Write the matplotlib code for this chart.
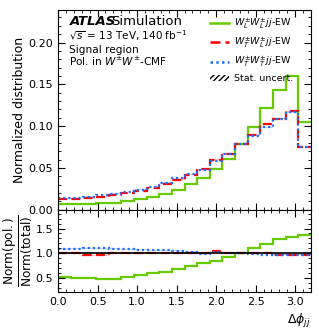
import numpy as np
import matplotlib
matplotlib.use("Agg")
import matplotlib.pyplot as plt
from matplotlib.lines import Line2D
from matplotlib.patches import Patch
from matplotlib.ticker import MultipleLocator

# ---- data ----
bin_edges = [0.0, 0.16, 0.32, 0.48, 0.64, 0.80, 0.96, 1.12, 1.28, 1.44, 1.60,
             1.76, 1.92, 2.08, 2.24, 2.40, 2.56, 2.72, 2.88, 3.04, 3.20]
ww_LL = [0.0066, 0.0067, 0.0070, 0.0079, 0.0085, 0.0104, 0.0124, 0.0153, 0.0192, 0.0240,
         0.0310, 0.0383, 0.0485, 0.0610, 0.0786, 0.0985, 0.1215, 0.1437, 0.1605, 0.1055]
ww_TL = [0.0130, 0.0132, 0.0138, 0.0158, 0.0178, 0.0200, 0.0228, 0.0262, 0.0310, 0.0362,
         0.0420, 0.0490, 0.0600, 0.0670, 0.0786, 0.0897, 0.1030, 0.1090, 0.1180, 0.0750]
ww_TT = [0.0142, 0.0145, 0.0158, 0.0181, 0.0194, 0.0216, 0.0241, 0.0275, 0.0325, 0.0376,
         0.0428, 0.0480, 0.0585, 0.0663, 0.0786, 0.0886, 0.0985, 0.1088, 0.1165, 0.0750]
ww_total = [0.0131, 0.0133, 0.0144, 0.0165, 0.0178, 0.0200, 0.0226, 0.0259, 0.0307, 0.0358,
            0.0416, 0.0485, 0.0577, 0.0663, 0.0786, 0.0897, 0.1030, 0.1124, 0.1216, 0.0773]
rel_stat = [0.012, 0.012, 0.012, 0.011, 0.011, 0.010, 0.010, 0.009, 0.009, 0.008,
            0.008, 0.007, 0.007, 0.006, 0.006, 0.006, 0.005, 0.005, 0.005, 0.006]

labels = [r"$W^{\pm}_{L}W^{\pm}_{L}jj$-EW", r"$W^{\pm}_{T}W^{\pm}_{L}jj$-EW",
          r"$W^{\pm}_{T}W^{\pm}_{T}jj$-EW"]
colors = ["#66cc00", "#ff0000", "#1f6fff"]
styles = ["-", (0, (4, 2)), (0, (1, 1.3))]

edges = np.array(bin_edges)
series = [np.array(ww_LL), np.array(ww_TL), np.array(ww_TT)]
total = np.array(ww_total)
rstat = np.array(rel_stat)

fig = plt.figure(figsize=(3.19, 3.31), dpi=100)
ax1 = fig.add_axes([0.182, 0.366, 0.793, 0.604])
ax2 = fig.add_axes([0.182, 0.118, 0.793, 0.248], sharex=ax1)

def step(ax, y, **kw):
    ax.stairs(y, edges, baseline=None, **kw)

for y, c, ls in zip(series, colors, styles):
    ax1.stairs(y * (1 + rstat), edges, baseline=y * (1 - rstat), fill=True,
               color=c, alpha=0.25, lw=0)
    step(ax1, y, color=c, ls=ls, lw=1.6)

for y, c, ls in zip(series, colors, styles):
    r = y / total
    ax2.stairs(r * (1 + rstat), edges, baseline=r * (1 - rstat), fill=True,
               color=c, alpha=0.25, lw=0)
ax2.stairs(1 + rstat, edges, baseline=1 - rstat, fill=True, facecolor="none",
           edgecolor="0.3", hatch="//////", lw=0)
ax2.axhline(1.0, color="black", lw=1.2)
for y, c, ls in zip(series, colors, styles):
    step(ax2, y / total, color=c, ls=ls, lw=1.6)

ax1.set_xlim(0, 3.2)
ax1.set_ylim(0, 0.239)
ax2.set_ylim(0.21, 1.88)

for ax in (ax1, ax2):
    ax.tick_params(which="both", direction="in", top=True, right=True, labelsize=8)
    ax.tick_params(which="major", length=5)
    ax.tick_params(which="minor", length=2.5)
    ax.xaxis.set_major_locator(MultipleLocator(0.5))
    ax.xaxis.set_minor_locator(MultipleLocator(0.1))
ax1.yaxis.set_major_locator(MultipleLocator(0.05))
ax1.yaxis.set_minor_locator(MultipleLocator(0.01))
ax2.yaxis.set_major_locator(MultipleLocator(0.5))
ax2.yaxis.set_minor_locator(MultipleLocator(0.1))
plt.setp(ax1.get_xticklabels(), visible=False)

ax1.set_ylabel("Normalized distribution", fontsize=9)
ax2.set_ylabel(r"$\frac{\mathsf{Norm(pol.)}}{\mathsf{Norm(total)}}$", fontsize=12.5)
ax1.yaxis.set_label_coords(-0.125, 0.5)
ax2.yaxis.set_label_coords(-0.095, 0.5)
ax2.set_xlabel(r"$\Delta\phi_{jj}$", fontsize=9, loc="right")

ax1.text(0.045, 0.94, "ATLAS", transform=ax1.transAxes, fontsize=9.5,
         fontweight="bold", fontstyle="italic", va="center")
ax1.text(0.21, 0.94, "Simulation", transform=ax1.transAxes, fontsize=9.5, va="center")
ax1.text(0.045, 0.87, r"$\sqrt{s}$ = 13 TeV, 140 fb$^{-1}$", transform=ax1.transAxes,
         fontsize=7.5, va="center")
ax1.text(0.045, 0.80, "Signal region", transform=ax1.transAxes, fontsize=7.6, va="center")
ax1.text(0.045, 0.743, r"Pol. in $W^{\pm}W^{\pm}$-CMF", transform=ax1.transAxes,
         fontsize=7.6, va="center")

handles = [Line2D([], [], color=c, ls=ls, lw=1.8) for c, ls in zip(colors, styles)]
handles.append(Patch(facecolor="white", edgecolor="black", hatch="//////", lw=0))
ax1.legend(handles, labels + ["Stat. uncert."], loc="upper right", frameon=False,
           fontsize=6.8, handlelength=2.0, handletextpad=0.5, borderaxespad=0,
           bbox_to_anchor=(0.945, 0.985), labelspacing=0.5)

fig.savefig("out.png", dpi=100)
